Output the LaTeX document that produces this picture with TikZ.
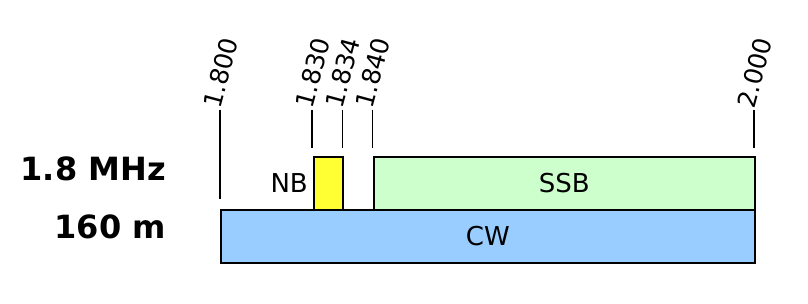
\documentclass[tikz,border=0pt]{standalone}
\usepackage{fontspec}
\setmainfont{DejaVu Sans}
\definecolor{cwblue}{HTML}{99CCFF}
\definecolor{ssbgreen}{HTML}{CCFFCC}
\definecolor{nbyellow}{HTML}{FFFF33}
\begin{document}
\begin{tikzpicture}[x=1pt,y=-1pt,
  band/.style={draw=black, line width=1.6pt, inner sep=0pt, anchor=north west,
    font=\fontsize{26}{26}\selectfont},
  tickline/.style={line width=1.1pt},
  freq/.style={rotate=75, anchor=base west, inner sep=0pt,
    font=\fontsize{25}{25}\selectfont},
  bandname/.style={anchor=east, inner sep=0pt,
    font=\bfseries\fontsize{32}{32}\selectfont}]
\useasboundingbox (0,0) rectangle (808,304);

% bands
\node[band, fill=cwblue, minimum width=534pt, minimum height=53pt] (cw) at (220,209) {CW};
\node[band, fill=ssbgreen, minimum width=381pt, minimum height=53pt] (ssb) at (373,156) {SSB};
\node[band, fill=nbyellow, minimum width=29pt, minimum height=53pt] (nb) at (313,156) {};
\node[anchor=east, inner sep=0pt, font=\fontsize{26}{26}\selectfont] (nbl) at ([xshift=-5pt]nb.west) {NB};

% band names
\node[bandname] (mhz) at (166,169) {1.8 MHz};
\node[bandname] (m160) at (166,227) {160 m};

% ticks
\coordinate (t1800) at (220,110); \coordinate (b1800) at (220,199);
\coordinate (t1830) at (312,110); \coordinate (b1830) at (312,148);
\coordinate (t1834) at (342.5,110); \coordinate (b1834) at (342.5,148);
\coordinate (t1840) at (372.5,110); \coordinate (b1840) at (372.5,148);
\coordinate (t2000) at (754,110); \coordinate (b2000) at (754,148);
\foreach \f in {1800,1830,1834,1840,2000}{
  \draw[tickline] (t\f) -- (b\f);
}

% frequency labels
\node[freq] (l1800) at (t1800) {1.800};
\node[freq] (l1830) at (t1830) {1.830};
\node[freq] (l1834) at (t1834) {1.834};
\node[freq] (l1840) at (t1840) {1.840};
\node[freq] (l2000) at (t2000) {2.000};
\end{tikzpicture}
\end{document}
